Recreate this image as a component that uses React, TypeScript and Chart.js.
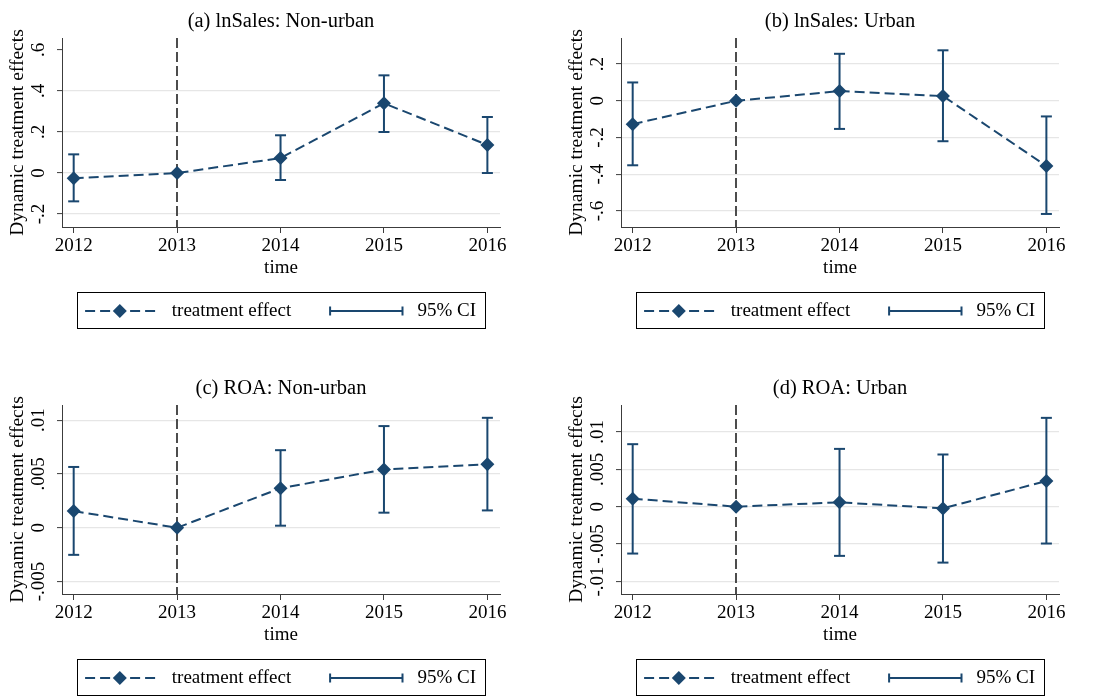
import React, { useEffect, useRef } from "react";
import { Chart, registerables } from "chart.js";

Chart.register(...registerables);

// ---------- data ----------
const years = [2012, 2013, 2014, 2015, 2016];
const eventYear = 2013;
const xRange = [2011.887, 2016.122];

const xTitle = "time";
const yTitle = "Dynamic treatment effects";
const effectLabel = "treatment effect";
const ciLabel = "95% CI";

const titleA = "(a) lnSales: Non-urban";
const effectA = [-0.026, 0, 0.073, 0.34, 0.137];
const lowA = [-0.138, null, -0.034, 0.2, 0.0];
const highA = [0.091, null, 0.184, 0.476, 0.273];
const yTicksA = [-0.2, 0, 0.2, 0.4, 0.6];
const yLabelsA = ["-.2", "0", ".2", ".4", ".6"];
const yRangeA = [-0.263, 0.658];
const noGridA = [0.6];

const titleB = "(b) lnSales: Urban";
const effectB = [-0.127, 0, 0.053, 0.026, -0.355];
const lowB = [-0.351, null, -0.153, -0.22, -0.616];
const highB = [0.1, null, 0.256, 0.275, -0.085];
const yTicksB = [-0.6, -0.4, -0.2, 0, 0.2];
const yLabelsB = ["-.6", "-.4", "-.2", "0", ".2"];
const yRangeB = [-0.687, 0.342];
const noGridB: number[] = [];

const titleC = "(c) ROA: Non-urban";
const effectC = [0.00155, 0, 0.00367, 0.00541, 0.0059];
const lowC = [-0.00252, null, 0.00019, 0.0014, 0.00161];
const highC = [0.00565, null, 0.00721, 0.00945, 0.01022];
const yTicksC = [-0.005, 0, 0.005, 0.01];
const yLabelsC = ["-.005", "0", ".005", ".01"];
const yRangeC = [-0.00616, 0.01141];
const noGridC: number[] = [];

const titleD = "(d) ROA: Urban";
const effectD = [0.00107, 0, 0.00058, -0.00023, 0.00344];
const lowD = [-0.00627, null, -0.00658, -0.00748, -0.00493];
const highD = [0.00836, null, 0.00773, 0.00698, 0.01188];
const yTicksD = [-0.01, -0.005, 0, 0.005, 0.01];
const yLabelsD = ["-.01", "-.005", "0", ".005", ".01"];
const yRangeD = [-0.01168, 0.0136];
const noGridD: number[] = [];

// ---------- style ----------
const NAVY = "#1a476f";
const AXIS = "#3c3c3c";
const GRID = "#e6e6e6";
const SERIF = "'Liberation Serif', 'Times New Roman', Times, serif";
const W = 540;
const H = 367;
const Y_AXIS_WIDTH = 62;
const Y_LABEL_OFFSET = 22.7; // axis line -> centre of rotated tick label
const Y_TICK_LEN = 5;
const LINE_W = 2;

type PanelData = {
  title: string;
  effect: number[];
  low: (number | null)[];
  high: (number | null)[];
  yTicks: number[];
  yLabels: string[];
  yRange: number[];
  noGrid: number[];
};

const panels: { p: PanelData; left: number; top: number }[] = [
  { p: { title: titleA, effect: effectA, low: lowA, high: highA, yTicks: yTicksA, yLabels: yLabelsA, yRange: yRangeA, noGrid: noGridA }, left: 0, top: 0 },
  { p: { title: titleB, effect: effectB, low: lowB, high: highB, yTicks: yTicksB, yLabels: yLabelsB, yRange: yRangeB, noGrid: noGridB }, left: 559, top: 0 },
  { p: { title: titleC, effect: effectC, low: lowC, high: highC, yTicks: yTicksC, yLabels: yLabelsC, yRange: yRangeC, noGrid: noGridC }, left: 0, top: 367 },
  { p: { title: titleD, effect: effectD, low: lowD, high: highD, yTicks: yTicksD, yLabels: yLabelsD, yRange: yRangeD, noGrid: noGridD }, left: 559, top: 367 },
];

function measureWidest(labels: string[], font: string) {
  const c = document.createElement("canvas").getContext("2d")!;
  c.font = font;
  return Math.max(...labels.map((l) => c.measureText(l).width));
}

const eventLinePlugin = {
  id: "eventLine",
  beforeDatasetsDraw(chart: any) {
    const { ctx, chartArea: a } = chart;
    const x = Math.round(chart.scales.x.getPixelForValue(eventYear));
    ctx.save();
    ctx.strokeStyle = "#3a3a3a";
    ctx.lineWidth = 1.8;
    ctx.setLineDash([10, 4]);
    ctx.beginPath();
    ctx.moveTo(x, a.top);
    ctx.lineTo(x, a.bottom);
    ctx.stroke();
    ctx.restore();
  },
};

const boxLegendPlugin = {
  id: "boxLegend",
  afterDraw(chart: any) {
    const { ctx, chartArea: a } = chart;
    const ds = chart.data.datasets;
    const w = 408;
    const h = 36;
    const cx = (a.left + a.right) / 2;
    const left = Math.round(cx - w / 2) + 0.5;
    const top = Math.round(a.bottom + 65) + 0.5;
    const my = top + 18.5;
    ctx.save();
    ctx.strokeStyle = "#000";
    ctx.lineWidth = 1;
    ctx.setLineDash([]);
    ctx.strokeRect(left, top, w, h);

    // symbol 1: dashed line with diamond
    ctx.strokeStyle = NAVY;
    ctx.lineWidth = LINE_W;
    ctx.setLineDash([10, 5]);
    ctx.beginPath();
    ctx.moveTo(left + 7.6, my);
    ctx.lineTo(left + 79, my);
    ctx.stroke();
    ctx.setLineDash([]);
    const dx = left + 42.3;
    const r = 7;
    ctx.fillStyle = NAVY;
    ctx.beginPath();
    ctx.moveTo(dx - r, my);
    ctx.lineTo(dx, my - r);
    ctx.lineTo(dx + r, my);
    ctx.lineTo(dx, my + r);
    ctx.closePath();
    ctx.fill();

    // symbol 2: CI bar with caps
    const s0 = left + 252.6;
    const s1 = left + 325;
    ctx.beginPath();
    ctx.moveTo(s0, my);
    ctx.lineTo(s1, my);
    ctx.moveTo(s0, my - 4.5);
    ctx.lineTo(s0, my + 4.5);
    ctx.moveTo(s1, my - 4.5);
    ctx.lineTo(s1, my + 4.5);
    ctx.stroke();

    ctx.fillStyle = "#000";
    ctx.font = `19px ${SERIF}`;
    ctx.textBaseline = "middle";
    ctx.textAlign = "left";
    ctx.fillText(ds[0].label, left + 94.3, my);
    ctx.fillText(ds[1].label, left + 340, my);
    ctx.restore();
  },
};

function buildConfig(p: PanelData): any {
  const ciPoints: any[] = [];
  years.forEach((yr, i) => {
    if (p.low[i] === null || p.high[i] === null) return;
    ciPoints.push({ x: yr, y: p.low[i] }, { x: yr, y: p.high[i] }, { x: yr, y: null });
  });
  const effPoints = years.map((x, i) => ({ x, y: p.effect[i] }));
  const tickFont = { family: SERIF, size: 19, lineHeight: 1 };
  const widest = measureWidest(p.yLabels, `19px ${SERIF}`);
  const yPad = Y_LABEL_OFFSET - Y_TICK_LEN - widest / 2;

  return {
    type: "line",
    data: {
      datasets: [
        {
          label: effectLabel,
          data: effPoints,
          order: 0,
          borderColor: NAVY,
          borderWidth: LINE_W,
          borderDash: [10, 5],
          pointStyle: "rectRot",
          pointRadius: 7,
          pointHoverRadius: 7,
          pointBackgroundColor: NAVY,
          pointBorderColor: NAVY,
          pointBorderWidth: 0,
          tension: 0,
          fill: false,
        },
        {
          label: ciLabel,
          data: ciPoints,
          order: 1,
          borderColor: NAVY,
          borderWidth: LINE_W,
          pointStyle: "line",
          pointRadius: 5.5,
          pointHoverRadius: 5.5,
          pointBorderColor: NAVY,
          pointBorderWidth: LINE_W,
          spanGaps: false,
          fill: false,
        },
      ],
    },
    options: {
      responsive: false,
      animation: false,
      events: [],
      layout: { padding: { left: 0, right: 40, top: 0, bottom: 89 } },
      plugins: {
        legend: { display: false },
        tooltip: { enabled: false },
        title: {
          display: true,
          text: p.title,
          fullSize: false,
          color: "#000",
          font: { family: SERIF, size: 20.5, weight: "normal", lineHeight: 1.2 },
          padding: { top: 9.4, bottom: 4 },
        },
      },
      scales: {
        x: {
          type: "linear",
          min: xRange[0],
          max: xRange[1],
          afterBuildTicks: (s: any) => {
            s.ticks = years.map((v) => ({ value: v }));
          },
          ticks: {
            callback: (v: any) => String(v),
            font: tickFont,
            color: "#000",
            padding: 4,
            autoSkip: false,
            maxRotation: 0,
            minRotation: 0,
          },
          grid: {
            display: true,
            drawOnChartArea: false,
            drawTicks: true,
            tickLength: 6,
            tickColor: AXIS,
            tickWidth: 1,
          },
          border: { display: true, color: AXIS, width: 1 },
          title: {
            display: true,
            text: xTitle,
            color: "#000",
            font: { family: SERIF, size: 19, lineHeight: 1 },
            padding: { top: -1, bottom: 0 },
          },
        },
        y: {
          type: "linear",
          min: p.yRange[0],
          max: p.yRange[1],
          afterBuildTicks: (s: any) => {
            s.ticks = p.yTicks.map((v) => ({ value: v }));
          },
          afterFit: (s: any) => {
            s.width = Y_AXIS_WIDTH;
          },
          ticks: {
            callback: (_v: any, i: number) => p.yLabels[i],
            font: tickFont,
            color: "#000",
            minRotation: 90,
            maxRotation: 90,
            crossAlign: "center",
            padding: yPad,
            autoSkip: false,
          },
          grid: {
            color: (c: any) =>
              c.tick && p.noGrid.includes(c.tick.value) ? "rgba(0,0,0,0)" : GRID,
            lineWidth: 1.2,
            drawTicks: true,
            tickLength: Y_TICK_LEN,
            tickColor: AXIS,
            tickWidth: 1,
          },
          border: { display: true, color: AXIS, width: 1 },
          title: {
            display: true,
            text: yTitle,
            color: "#000",
            font: { family: SERIF, size: 19.5, lineHeight: 1 },
            padding: { top: 8.5, bottom: 0 },
          },
        },
      },
    },
    plugins: [eventLinePlugin, boxLegendPlugin],
  };
}

function Panel({ p, left, top }: { p: PanelData; left: number; top: number }) {
  const ref = useRef<HTMLCanvasElement>(null);
  useEffect(() => {
    const chart = new Chart(ref.current!, buildConfig(p));
    return () => chart.destroy();
  }, []);
  return (
    <canvas
      ref={ref}
      width={W}
      height={H}
      style={{ position: "absolute", left, top, width: W, height: H, display: "block" }}
    />
  );
}

export default function App() {
  return (
    <div
      style={{
        position: "absolute",
        left: 0,
        top: 0,
        width: 1099,
        height: 696,
        overflow: "hidden",
        background: "#fff",
      }}
    >
      {panels.map((pp, i) => (
        <Panel key={i} p={pp.p} left={pp.left} top={pp.top} />
      ))}
    </div>
  );
}
